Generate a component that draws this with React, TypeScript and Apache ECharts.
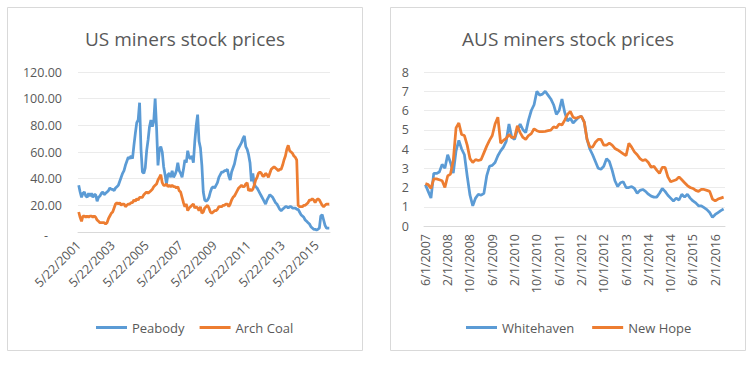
import React, { useEffect, useRef } from 'react';
import * as echarts from 'echarts';

// ---------- categories ----------
function monthLabels(startMonth: number, startYear: number, day: number, count: number): string[] {
  const out: string[] = [];
  for (let i = 0; i < count; i++) {
    const m0 = startMonth - 1 + i;
    out.push(`${(m0 % 12) + 1}/${day}/${startYear + Math.floor(m0 / 12)}`);
  }
  return out;
}
const usDates = monthLabels(5, 2001, 22, 178); // 5/22/2001 .. 2/22/2016
const ausDates = monthLabels(6, 2007, 1, 108); // 6/1/2007 .. 5/1/2016

// ---------- US series (monthly) ----------
const peabody = [
  35, 30, 26, 29, 30, 27, 26, 29, 27, 29, 26, 28,
  28, 23, 26, 27, 29, 30, 28, 29, 30, 31, 33, 32,
  32, 31, 33, 34, 35, 38, 41, 44, 46, 50, 53, 56,
  55, 57, 55, 65, 74, 82, 84, 97, 62, 45, 44, 48,
  61, 69, 79, 84, 79, 83, 100, 78, 50, 62, 64, 60,
  49, 43, 36, 43, 44, 41, 46, 41, 43, 46, 52, 46,
  44, 41, 47, 54, 52, 61, 56, 55, 57, 52, 68, 80,
  88, 68, 63, 50, 30, 24, 23, 24, 26, 30, 33, 34,
  33, 35, 37, 41, 43, 45, 45, 46, 46, 47, 42, 39,
  45, 48, 51, 56, 61, 63, 65, 67, 70, 72, 64, 62,
  58, 52, 38, 44, 36, 34, 33, 31, 29, 27, 25, 23,
  21, 24, 26, 28, 27, 26, 24, 22, 21, 19, 17, 16,
  17, 18, 19, 19, 18, 19, 19, 18, 18, 18, 17, 17,
  15, 13, 12, 11, 9, 8, 7, 6, 4, 3, 2, 2,
  1.5, 2, 3, 12, 13, 9, 5, 3, 3, 3,
];
const archCoal = [
  15, 11, 8, 12, 12, 11, 12, 11, 12, 12, 11, 12,
  11, 9, 8, 7, 7, 7, 7, 6, 7, 10, 12, 14,
  15, 18, 21, 22, 21, 22, 20, 21, 21, 19, 20, 21,
  21, 22, 22, 24, 23, 25, 24, 26, 26, 26, 28, 29,
  30, 29, 30, 31, 32, 34, 35, 36, 39, 41, 43, 37,
  35, 35, 36, 34, 35, 34, 35, 34, 34, 33, 34, 31,
  30, 26, 22, 19, 21, 16, 18, 19, 20, 21, 18, 19,
  18, 16, 19, 14, 15, 18, 19, 20, 18, 15, 14, 15,
  16, 16, 17, 19, 19, 19, 20, 20, 21, 21, 19, 21,
  24, 26, 27, 29, 31, 33, 34, 35, 34, 34, 36, 37,
  31, 32, 31, 32, 35, 39, 41, 44, 45, 44, 42, 42,
  44, 43, 41, 44, 47, 48, 49, 48, 47, 46, 47, 47,
  50, 54, 57, 62, 65, 61, 60, 59, 57, 56, 54, 20,
  19, 19, 19, 20, 20, 21, 22, 24, 24, 25, 24, 22,
  24, 25, 24, 22, 20, 19, 20, 21, 21, 21,
];

// ---------- AUS series (monthly) ----------
const whitehaven = [
  2.15, 1.8, 1.45, 2.73, 2.73, 2.8, 3.2, 3.0, 3.7, 3.3,
  2.75, 3.9, 4.45, 4.0, 3.7, 2.6, 1.6, 1.05, 1.45, 1.65,
  1.6, 1.7, 2.6, 3.1, 3.15, 3.3, 3.65, 3.9, 4.1, 4.4,
  5.3, 4.6, 4.5, 5.0, 5.3, 5.0, 4.85, 5.5, 6.0, 6.3,
  7.0, 6.8, 6.85, 7.0, 6.8, 6.6, 6.3, 5.8, 6.0, 6.6,
  5.9, 5.45, 5.6, 5.35, 5.5, 5.65, 5.7, 5.4, 4.5, 4.0,
  3.7, 3.35, 3.0, 2.95, 3.1, 3.5, 3.35, 2.9, 2.35, 2.05,
  2.25, 2.3, 2.0, 2.0, 2.05, 1.95, 1.7, 1.85, 1.9, 1.8,
  1.65, 1.55, 1.5, 1.5, 1.7, 1.95, 1.8, 1.6, 1.45, 1.3,
  1.45, 1.35, 1.65, 1.5, 1.65, 1.45, 1.3, 1.2, 1.05, 1.05,
  0.95, 0.85, 0.7, 0.45, 0.6, 0.7, 0.8, 0.88,
];
const newHope = [
  2.2, 2.15, 1.95, 2.45, 2.45, 2.4, 2.35, 2.0, 2.6, 2.7,
  3.4, 5.1, 5.35, 4.75, 4.7, 4.2, 3.5, 3.3, 3.45, 3.4,
  3.45, 3.8, 4.15, 4.45, 4.7, 5.3, 5.65, 4.3, 4.45, 4.55,
  4.75, 4.6, 4.6, 5.2, 4.85, 4.6, 4.5, 4.7, 4.8, 5.05,
  4.95, 4.9, 4.9, 4.92, 4.95, 4.98, 5.15, 5.1, 5.3, 5.25,
  5.5, 5.8, 5.95, 5.65, 5.6, 5.65, 5.7, 5.4, 4.5, 4.1,
  4.1, 4.35, 4.5, 4.5, 4.2, 4.2, 4.3, 4.2, 4.03, 3.95,
  3.85, 3.75, 3.65, 4.3, 4.1, 3.85, 3.7, 3.5, 3.4, 3.45,
  3.3, 3.05, 3.1, 2.9, 2.73, 3.05, 3.05, 2.55, 2.3, 2.35,
  2.4, 2.55, 2.4, 2.25, 2.1, 2.0, 1.95, 1.85, 1.8, 1.9,
  1.9, 1.85, 1.8, 1.4, 1.3, 1.4, 1.45, 1.5,
];

const titles = ['US miners stock prices', 'AUS miners stock prices'];
const usLegend = ['Peabody', 'Arch Coal'];
const ausLegend = ['Whitehaven', 'New Hope'];

const FONT = "'Open Sans', sans-serif";
const TXT = '#595959';
const BLUE = '#5B9BD5';
const ORANGE = '#ED7D31';
const GRID = '#EBEBEB';
const AXIS = '#D9D9D9';

export default function App() {
  const ref = useRef<HTMLDivElement>(null);
  useEffect(() => {
    if (!ref.current) return;
    const chart = echarts.init(ref.current, undefined, { renderer: 'svg' });
    const lineSeries = (name: string, data: number[], color: string, idx: number) => ({
      name,
      type: 'line',
      xAxisIndex: idx,
      yAxisIndex: idx,
      data,
      symbol: 'none',
      lineStyle: { width: 2.75, color },
      itemStyle: { color },
    });
    const xLabel = {
      color: TXT,
      fontSize: 12.5,
      fontFamily: FONT,
    };
    const legendBase = {
      icon: 'rect',
      itemWidth: 31,
      itemHeight: 3,
      top: 316,
      textStyle: { color: TXT, fontSize: 13, fontFamily: FONT },
    };
    chart.setOption({
      animation: false,
      backgroundColor: '#ffffff',
      textStyle: { fontFamily: FONT },
      graphic: [
        { type: 'rect', silent: true, shape: { x: 7.5, y: 7.5, width: 355, height: 343 }, style: { fill: 'none', stroke: AXIS, lineWidth: 1 } },
        { type: 'rect', silent: true, shape: { x: 390.5, y: 7.5, width: 355, height: 343 }, style: { fill: 'none', stroke: AXIS, lineWidth: 1 } },
        { type: 'text', x: 185, y: 39, style: { text: titles[0], fontSize: 19, fontFamily: FONT, fill: TXT, textAlign: 'center', textVerticalAlign: 'middle' } },
        { type: 'text', x: 568, y: 39, style: { text: titles[1], fontSize: 19, fontFamily: FONT, fill: TXT, textAlign: 'center', textVerticalAlign: 'middle' } },
      ],
      grid: [
        { left: 78, top: 72, width: 252, height: 160 },
        { left: 424, top: 72, width: 301, height: 154 },
      ],
      xAxis: [
        {
          type: 'category', gridIndex: 0, data: usDates, boundaryGap: true,
          axisTick: { show: false }, axisLine: { lineStyle: { color: AXIS } },
          axisLabel: { ...xLabel, interval: 23, rotate: 45, margin: 11 },
        },
        {
          type: 'category', gridIndex: 1, data: ausDates, boundaryGap: true,
          axisTick: { show: false }, axisLine: { lineStyle: { color: AXIS } },
          axisLabel: { ...xLabel, interval: 7, rotate: 90, margin: 8 },
        },
      ],
      yAxis: [
        {
          type: 'value', gridIndex: 0, min: 0, max: 120, interval: 20,
          axisLine: { show: false }, axisTick: { show: false },
          splitLine: { lineStyle: { color: GRID } },
          axisLabel: {
            color: TXT, fontSize: 12.5, fontFamily: FONT, margin: 16,
            formatter: (v: number) => (v === 0 ? '{d|-}' : v.toFixed(2)),
            rich: { d: { color: TXT, fontSize: 12.5, fontFamily: FONT, padding: [6, 14, 0, 0] } },
          },
        },
        {
          type: 'value', gridIndex: 1, min: 0, max: 8, interval: 1,
          axisLine: { show: false }, axisTick: { show: false },
          splitLine: { lineStyle: { color: GRID } },
          axisLabel: { color: TXT, fontSize: 12.5, fontFamily: FONT, margin: 15 },
        },
      ],
      legend: [
        { ...legendBase, data: usLegend, left: 91, itemGap: 15 },
        { ...legendBase, data: ausLegend, left: 461, itemGap: 18 },
      ],
      series: [
        lineSeries(usLegend[0], peabody, BLUE, 0),
        lineSeries(usLegend[1], archCoal, ORANGE, 0),
        lineSeries(ausLegend[0], whitehaven, BLUE, 1),
        lineSeries(ausLegend[1], newHope, ORANGE, 1),
      ],
    });
    return () => chart.dispose();
  }, []);
  return (
    <div
      ref={ref}
      style={{ position: 'fixed', left: 0, top: 0, width: 754, height: 365, background: '#fff' }}
    />
  );
}
